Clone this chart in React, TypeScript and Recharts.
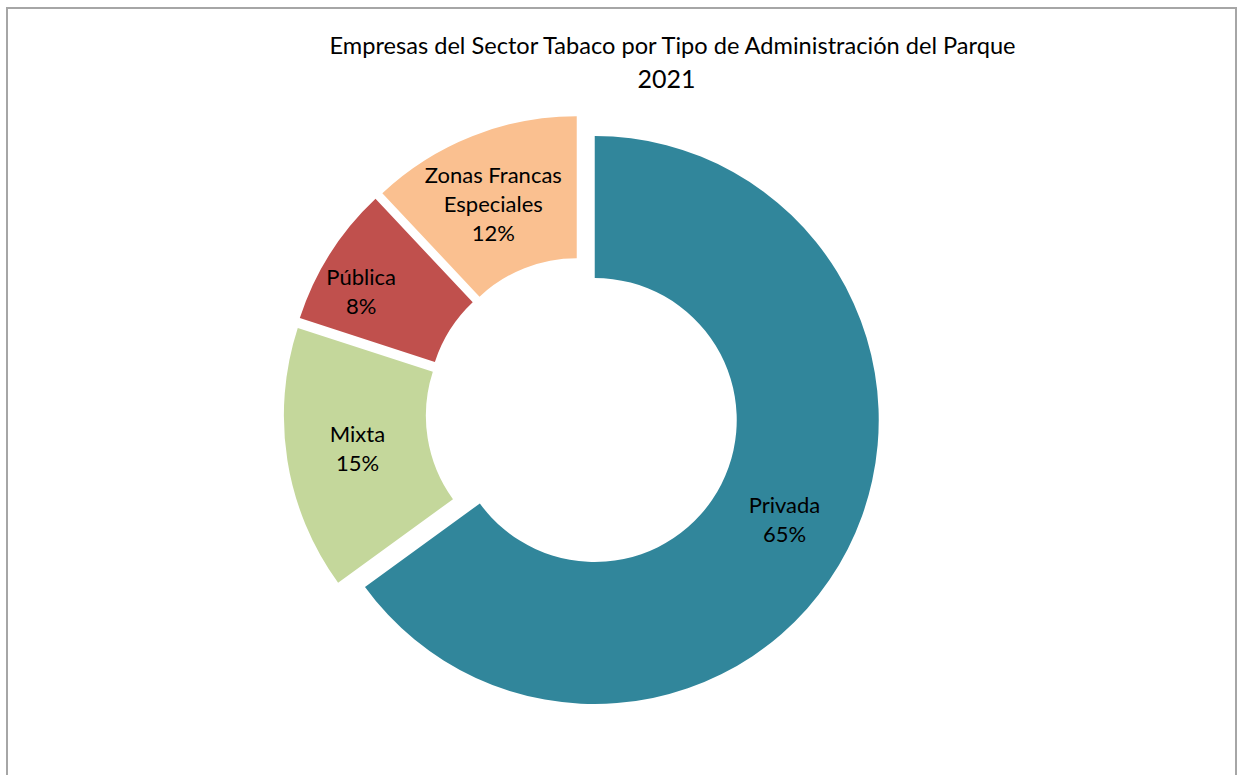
import React from 'react';
import { PieChart, Pie, Cell } from 'recharts';

const categories = ['Privada', 'Mixta', 'Pública', 'Zonas Francas Especiales'];
const labelLines = [['Privada'], ['Mixta'], ['Pública'], ['Zonas Francas', 'Especiales']];
const shares = [65, 15, 8, 12];
const colors = ['#31869B', '#C4D79B', '#C0504D', '#FAC090'];

const titleLine1 = 'Empresas del Sector Tabaco por Tipo de Administración del Parque';
const titleLine2 = '2021';

const data = categories.map((name, i) => ({ name, value: shares[i] }));
const total = shares.reduce((a, b) => a + b, 0);

const CX = 577;
const CY = 408.5;
const INNER = 142;
const OUTER = 284;
const EXPLODE = 14.3;
const FONT = 'Lato, "Open Sans", sans-serif';
const LABEL_SIZE = 22;
const LINE_H = 29;
const RAD = Math.PI / 180;
// small manual label nudges (mimicking the spreadsheet's best-fit placement)
const LABEL_NUDGE: Record<number, [number, number]> = { 2: [-29, 0], 3: [-5, 2], 0: [0, 3] };

function sliceCenter(idx: number) {
  const before = shares.slice(0, idx).reduce((a, b) => a + b, 0);
  const midFrac = (before + shares[idx] / 2) / total;
  const ang = 90 - 360 * midFrac;
  return {
    cx: CX + EXPLODE * Math.cos(ang * RAD),
    cy: CY - EXPLODE * Math.sin(ang * RAD),
  };
}

function makeLabel(idx: number) {
  return (props: any) => {
    if (props.index !== idx) return <g />;
    const r = (props.innerRadius + props.outerRadius) / 2;
    const nudge = LABEL_NUDGE[idx] || [0, 0];
    const x = props.cx + r * Math.cos(-props.midAngle * RAD) + nudge[0];
    const y = props.cy + r * Math.sin(-props.midAngle * RAD) + nudge[1];
    const lines = [...labelLines[idx], `${Math.round((shares[idx] / total) * 100)}%`];
    const y0 = y - ((lines.length - 1) * LINE_H) / 2 + LABEL_SIZE * 0.35;
    return (
      <text x={x} y={y0} textAnchor="middle" fontFamily={FONT} fontSize={LABEL_SIZE} fill="#000">
        {lines.map((l, k) => (
          <tspan key={k} x={x} dy={k === 0 ? 0 : LINE_H}>
            {l}
          </tspan>
        ))}
      </text>
    );
  };
}

export default function App() {
  return (
    <div style={{ position: 'absolute', left: 0, top: 0, width: 1245, height: 775, overflow: 'hidden', background: '#fff' }}>
      <div
        style={{
          position: 'absolute',
          left: 6,
          top: 7,
          width: 1231,
          height: 800,
          border: '2px solid #A6A6A6',
          boxSizing: 'border-box',
        }}
      />
      <div
        style={{
          position: 'absolute',
          left: 100,
          width: 1145,
          top: 30,
          textAlign: 'center',
          fontFamily: FONT,
          fontSize: 23.6,
          lineHeight: '30px',
          color: '#000',
          whiteSpace: 'nowrap',
        }}
      >
        {titleLine1}
      </div>
      <div
        style={{
          position: 'absolute',
          left: 100,
          width: 1133,
          top: 62,
          textAlign: 'center',
          fontFamily: FONT,
          fontSize: 25,
          lineHeight: '32px',
          color: '#000',
        }}
      >
        {titleLine2}
      </div>
      <div style={{ position: 'absolute', left: 0, top: 0 }}>
        <PieChart width={1245} height={775}>
          {categories.map((_, idx) => {
            const c = sliceCenter(idx);
            return (
              <Pie
                key={idx}
                data={data}
                dataKey="value"
                nameKey="name"
                cx={c.cx}
                cy={c.cy}
                innerRadius={INNER}
                outerRadius={OUTER}
                startAngle={90}
                endAngle={-270}
                stroke="none"
                labelLine={false}
                label={makeLabel(idx)}
                isAnimationActive={false}
              >
                {data.map((d, i) => (
                  <Cell key={d.name} fill={i === idx ? colors[i] : 'none'} stroke="none" />
                ))}
              </Pie>
            );
          })}
        </PieChart>
      </div>
    </div>
  );
}
